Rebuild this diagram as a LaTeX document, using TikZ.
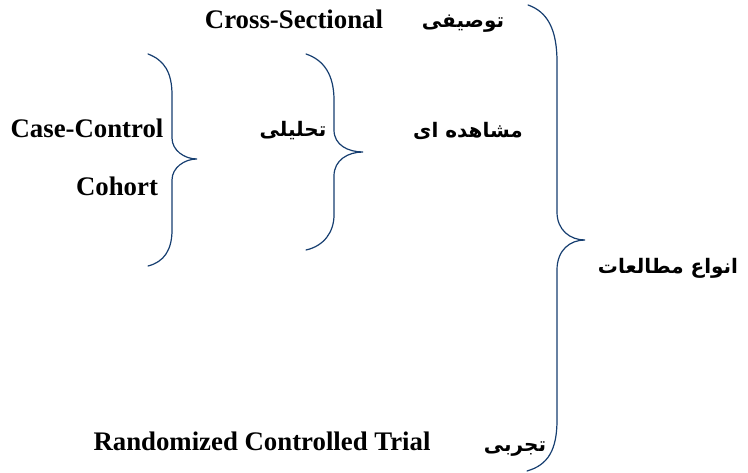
\documentclass[tikz,border=0pt]{standalone}
\usepackage{fontspec}
\setmainfont{Liberation Serif}
\newfontfamily\arabicfont[Script=Arabic]{DejaVu Sans}
\TeXXeTstate=1
\definecolor{bracecol}{RGB}{22,62,112}

\tikzstyle{every node}=[inner sep=1pt]
\tikzstyle{latin}=[font={\fontsize{26.8}{30}\selectfont\bfseries}]
\tikzstyle{farsi}=[font={\arabicfont\fontsize{20}{24}\selectfont\bfseries}]
\tikzstyle{curly}=[draw=bracecol, line width=1.2pt, line cap=round]

\begin{document}
\begin{tikzpicture}[x=1pt, y=-1pt]
    \useasboundingbox (0,0) rectangle (748,473);

    % labels
    \node [latin] (cross) at (294,19) {Cross-Sectional};
    \node [farsi] (tosifi) at (463,24) {\beginR توصیفی\endR};
    \node [farsi] (moshahede) at (468,131) {\beginR مشاهده ای\endR};
    \node [farsi] (tahlili) at (293,131) {\beginR تحلیلی\endR};
    \node [latin] (casectrl) at (87,128) {Case-Control};
    \node [latin] (cohort) at (117,186) {Cohort};
    \node [farsi] (anva) at (668,268) {\beginR انواع مطالعات\endR};
    \node [latin] (rct) at (262,441) {Randomized Controlled Trial};
    \node [farsi] (tajrobi) at (515,449) {\beginR تجربی\endR};

    % braces
    \coordinate (bigtip) at (585,240);
    \coordinate (midtip) at (363,152);
    \coordinate (lefttip) at (197,159);

    \draw [curly] (528,5) .. controls (548,12) and (557,30) .. (557,62)
        -- (557,212) .. controls (557,230) and (570,240) .. (bigtip)
        .. controls (570,240) and (557,250) .. (557,270)
        -- (557,420) .. controls (557,450) and (548,465) .. (527,471);

    \draw [curly] (306,54) .. controls (324,60) and (334,75) .. (334,100)
        -- (334,130) .. controls (334,145) and (348,152) .. (midtip)
        .. controls (348,152) and (334,160) .. (334,176)
        -- (334,215) .. controls (334,232) and (324,246) .. (306,250);

    \draw [curly] (148,54) .. controls (164,60) and (172,72) .. (172,95)
        -- (172,138) .. controls (172,150) and (184,159) .. (lefttip)
        .. controls (184,159) and (172,168) .. (172,180)
        -- (172,230) .. controls (172,250) and (164,262) .. (148,266);
\end{tikzpicture}
\end{document}
